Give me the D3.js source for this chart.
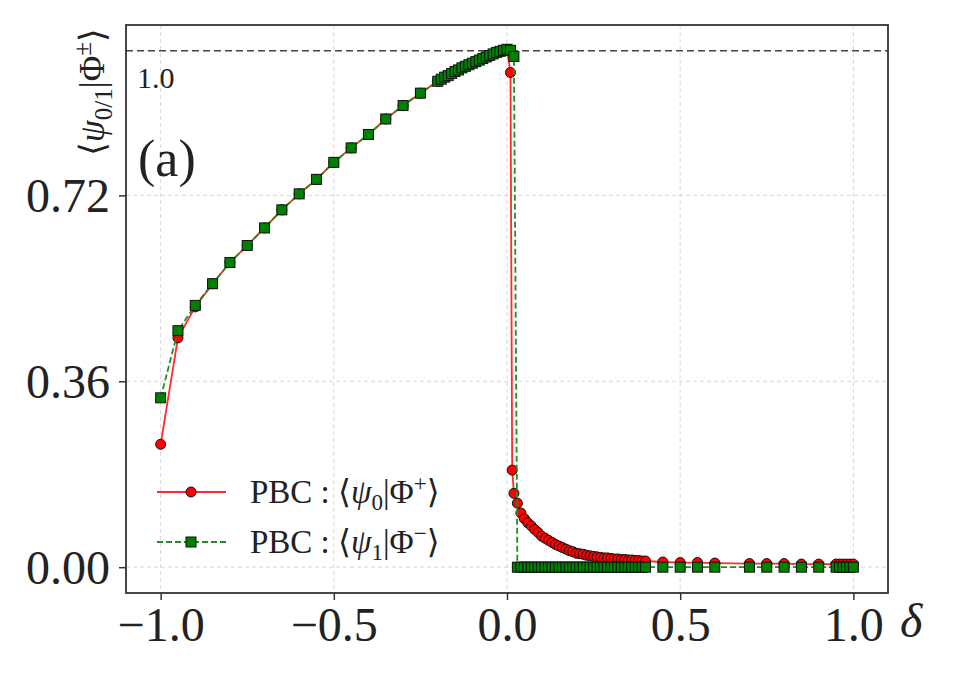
<!DOCTYPE html>
<html lang="en">
<head>
    <meta charset="utf-8">
    <title>Overlap vs delta</title>
    <script src="https://d3js.org/d3.v7.min.js"></script>
    <style>
        body { margin: 0; background: #fff; }
        text { font-family: "Liberation Serif", "DejaVu Serif", serif; fill: #222; }
    </style>
</head>
<body>
<div id="chart"></div>
<script>

    // ---- Data ----
    // PBC : <psi_0|Phi+>  (red circles, solid line)
    const redDelta = [
        -1.0, -0.95, -0.9, -0.85, -0.8, -0.75, -0.7, -0.65, -0.6, -0.55, -0.5, -0.45, -0.4, -0.35, -0.3, -0.25, -0.2,
        -0.19, -0.18, -0.17, -0.16, -0.15, -0.14, -0.13, -0.12, -0.11, -0.1, -0.09, -0.08, -0.07, -0.06, -0.05, -0.04, -0.03, -0.02, -0.01, 0.0,
        0.01, 0.015, 0.02, 0.03, 0.04, 0.05, 0.06, 0.07, 0.08, 0.09, 0.1,
        0.11, 0.12, 0.13, 0.14, 0.15, 0.16, 0.17, 0.18, 0.19, 0.2,
        0.21, 0.22, 0.23, 0.24, 0.25, 0.26, 0.27, 0.28, 0.29, 0.3,
        0.31, 0.32, 0.33, 0.34, 0.35, 0.36, 0.37, 0.38, 0.39, 0.4,
        0.45, 0.5, 0.55, 0.6, 0.7, 0.75, 0.8, 0.85, 0.9, 0.95, 0.96, 0.97, 0.98, 0.99, 1.0
    ];
    const redValue = [
        0.238, 0.444, 0.504, 0.549, 0.590, 0.623, 0.657, 0.692, 0.723, 0.751, 0.784, 0.812, 0.838, 0.868, 0.894, 0.918, 0.941,
        0.945, 0.949, 0.952, 0.956, 0.960, 0.963, 0.967, 0.970, 0.973, 0.976, 0.979, 0.982, 0.985, 0.988, 0.991, 0.994, 0.997, 0.999, 1.001, 1.003,
        0.958, 0.188, 0.143, 0.124, 0.105, 0.094, 0.086, 0.080, 0.073, 0.067, 0.060,
        0.056, 0.052, 0.048, 0.044, 0.041, 0.038, 0.035, 0.032, 0.030, 0.027,
        0.026, 0.025, 0.023, 0.022, 0.021, 0.020, 0.019, 0.018, 0.018, 0.017,
        0.016, 0.016, 0.015, 0.015, 0.014, 0.014, 0.013, 0.013, 0.012, 0.012,
        0.010, 0.009, 0.009, 0.008, 0.007, 0.007, 0.007, 0.006, 0.006, 0.006, 0.006, 0.006, 0.006, 0.006, 0.006
    ];

    // PBC : <psi_1|Phi->  (green squares, dashed line)
    const greenDelta = [
        -1.0, -0.95, -0.9, -0.85, -0.8, -0.75, -0.7, -0.65, -0.6, -0.55, -0.5, -0.45, -0.4, -0.35, -0.3, -0.25, -0.2,
        -0.19, -0.18, -0.17, -0.16, -0.15, -0.14, -0.13, -0.12, -0.11, -0.1, -0.09, -0.08, -0.07, -0.06, -0.05, -0.04, -0.03, -0.02, -0.01, 0.0,
        0.01, 0.02,
        0.03, 0.04, 0.05, 0.06, 0.07, 0.08, 0.09, 0.1,
        0.11, 0.12, 0.13, 0.14, 0.15, 0.16, 0.17, 0.18, 0.19, 0.2,
        0.21, 0.22, 0.23, 0.24, 0.25, 0.26, 0.27, 0.28, 0.29, 0.3,
        0.31, 0.32, 0.33, 0.34, 0.35, 0.36, 0.37, 0.38, 0.39, 0.4,
        0.45, 0.5, 0.55, 0.6, 0.7, 0.75, 0.8, 0.85, 0.9, 0.95, 0.96, 0.97, 0.98, 0.99, 1.0
    ];
    const greenValue = [
        0.328, 0.458, 0.507, 0.549, 0.590, 0.623, 0.657, 0.692, 0.723, 0.751, 0.784, 0.812, 0.838, 0.868, 0.894, 0.918, 0.941,
        0.945, 0.949, 0.952, 0.956, 0.960, 0.963, 0.967, 0.970, 0.973, 0.976, 0.979, 0.982, 0.985, 0.988, 0.991, 0.994, 0.997, 0.999, 1.001, 1.003,
        1.001, 0.989,
        0, 0, 0, 0, 0, 0, 0, 0,
        0, 0, 0, 0, 0, 0, 0, 0, 0, 0,
        0, 0, 0, 0, 0, 0, 0, 0, 0, 0,
        0, 0, 0, 0, 0, 0, 0, 0, 0, 0,
        0, 0, 0, 0, 0, 0, 0, 0, 0, 0, 0, 0, 0, 0, 0
    ];

    const xTicks = [-1.0, -0.5, 0.0, 0.5, 1.0];
    const yTicks = [0.0, 0.36, 0.72];
    const refLevel = 1.0;

    // ---- Layout ----
    const W = 958, H = 673;
    const margin = {top: 25, right: 70, bottom: 80, left: 126};
    const plotW = W - margin.left - margin.right,
        plotH = H - margin.top - margin.bottom;

    const svg = d3.select("#chart")
        .append("svg")
        .attr("width", W)
        .attr("height", H);

    const g = svg.append("g")
        .attr("transform", `translate(${margin.left},${margin.top})`);

    const x = d3.scaleLinear().domain([-1.1, 1.1]).range([0, plotW]);
    const y = d3.scaleLinear().domain([-0.05, 1.05]).range([plotH, 0]);

    // grid
    g.append("g")
        .selectAll("line")
        .data(xTicks)
        .join("line")
        .attr("x1", d => x(d)).attr("x2", d => x(d))
        .attr("y1", 0).attr("y2", plotH)
        .attr("stroke", "#d4d4d4").attr("stroke-width", 0.9)
        .attr("stroke-dasharray", "4,3");
    g.append("g")
        .selectAll("line")
        .data(yTicks)
        .join("line")
        .attr("x1", 0).attr("x2", plotW)
        .attr("y1", d => y(d)).attr("y2", d => y(d))
        .attr("stroke", "#d4d4d4").attr("stroke-width", 0.9)
        .attr("stroke-dasharray", "4,3");

    // reference line at 1.0
    g.append("line")
        .attr("x1", 0).attr("x2", plotW)
        .attr("y1", y(refLevel)).attr("y2", y(refLevel))
        .attr("stroke", "#444").attr("stroke-width", 1.4)
        .attr("stroke-dasharray", "7,4");
    g.append("text")
        .attr("x", 11).attr("y", y(refLevel) + 37)
        .attr("font-size", 30)
        .text("1.0");

    // panel label
    g.append("text")
        .attr("x", 12).attr("y", 151)
        .attr("font-size", 52)
        .text("(a)");

    const redData = redDelta.map((d, i) => ({x: d, y: redValue[i]}));
    const greenData = greenDelta.map((d, i) => ({x: d, y: greenValue[i]}));

    const line = d3.line().x(d => x(d.x)).y(d => y(d.y));

    // red series
    g.append("path")
        .datum(redData)
        .attr("d", line)
        .attr("fill", "none")
        .attr("stroke", "#ff2a2a")
        .attr("stroke-width", 1.8);
    g.append("g")
        .selectAll("circle")
        .data(redData)
        .join("circle")
        .attr("cx", d => x(d.x))
        .attr("cy", d => y(d.y))
        .attr("r", 5)
        .attr("fill", "#ff0000")
        .attr("stroke", "#111")
        .attr("stroke-width", 1);

    // green series
    g.append("path")
        .datum(greenData)
        .attr("d", line)
        .attr("fill", "none")
        .attr("stroke", "#1f8f1f")
        .attr("stroke-width", 1.8)
        .attr("stroke-dasharray", "6,3");
    const sq = 10;
    g.append("g")
        .selectAll("rect")
        .data(greenData)
        .join("rect")
        .attr("x", d => x(d.x) - sq / 2)
        .attr("y", d => y(d.y) - sq / 2)
        .attr("width", sq)
        .attr("height", sq)
        .attr("fill", "#008000")
        .attr("stroke", "#111")
        .attr("stroke-width", 1);

    // frame
    g.append("rect")
        .attr("width", plotW).attr("height", plotH)
        .attr("fill", "none")
        .attr("stroke", "#333").attr("stroke-width", 1.8);

    // axes
    const xAxis = g.append("g")
        .attr("transform", `translate(0,${plotH})`)
        .call(d3.axisBottom(x).tickValues(xTicks).tickFormat(d3.format(".1f")).tickSize(7));
    xAxis.select(".domain").remove();
    xAxis.selectAll("line").attr("stroke", "#333").attr("stroke-width", 1.5);
    xAxis.selectAll("text")
        .attr("y", 48).attr("dy", 0)
        .attr("font-size", 48)
        .attr("font-family", "'Liberation Serif', serif")
        .attr("fill", "#222");

    const yAxis = g.append("g")
        .call(d3.axisLeft(y).tickValues(yTicks).tickFormat(d3.format(".2f")).tickSize(7));
    yAxis.select(".domain").remove();
    yAxis.selectAll("line").attr("stroke", "#333").attr("stroke-width", 1.5);
    yAxis.selectAll("text")
        .attr("x", -16).attr("dy", "0.34em")
        .attr("font-size", 48)
        .attr("font-family", "'Liberation Serif', serif")
        .attr("fill", "#222");

    // axis titles
    svg.append("text")
        .attr("x", 900).attr("y", 637)
        .attr("font-size", 48)
        .attr("font-style", "italic")
        .text("δ");

    const yTitle = svg.append("text")
        .attr("transform", "translate(104,92) rotate(-90)")
        .attr("text-anchor", "middle")
        .attr("font-size", 35);
    yTitle.append("tspan").text("⟨");
    yTitle.append("tspan").attr("font-style", "italic").text("ψ");
    yTitle.append("tspan").attr("font-size", 25).attr("dy", 8).text("0/1");
    yTitle.append("tspan").attr("dy", -8).text("|Φ");
    yTitle.append("tspan").attr("font-size", 25).attr("dy", -13).text("±");
    yTitle.append("tspan").attr("dy", 13).text("⟩");

    // legend
    const legend = svg.append("g");
    const legendItems = [
        {y: 492, color: "#ff2a2a", fill: "#ff0000", dash: null, marker: "circle", sub: "0", sup: "+"},
        {y: 542, color: "#1f8f1f", fill: "#008000", dash: "6,3", marker: "square", sub: "1", sup: "−"}
    ];
    legendItems.forEach(item => {
        legend.append("line")
            .attr("x1", 157).attr("x2", 226)
            .attr("y1", item.y).attr("y2", item.y)
            .attr("stroke", item.color).attr("stroke-width", 1.8)
            .attr("stroke-dasharray", item.dash);
        if (item.marker === "circle") {
            legend.append("circle")
                .attr("cx", 191).attr("cy", item.y).attr("r", 5)
                .attr("fill", item.fill).attr("stroke", "#111");
        } else {
            legend.append("rect")
                .attr("x", 191 - sq / 2).attr("y", item.y - sq / 2)
                .attr("width", sq).attr("height", sq)
                .attr("fill", item.fill).attr("stroke", "#111");
        }
        const t = legend.append("text")
            .attr("x", 250).attr("y", item.y + 11)
            .attr("font-size", 33);
        t.append("tspan").text("PBC\u00a0:\u00a0⟨");
        t.append("tspan").attr("font-style", "italic").text("ψ");
        t.append("tspan").attr("font-size", 23).attr("dy", 7).text(item.sub);
        t.append("tspan").attr("dy", -7).text("|Φ");
        t.append("tspan").attr("font-size", 23).attr("dy", -12).text(item.sup);
        t.append("tspan").attr("dy", 12).text("⟩");
    });

</script>
</body>
</html>
